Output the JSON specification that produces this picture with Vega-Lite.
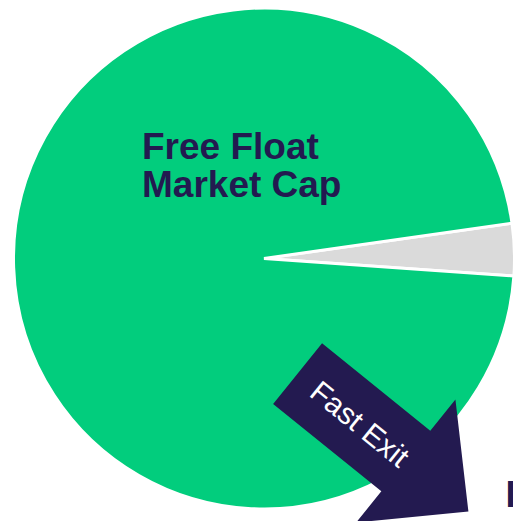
{
  "$schema": "https://vega.github.io/schema/vega-lite/v6.json",
  "width": 513,
  "height": 521,
  "autosize": {"type": "none"},
  "padding": 0,
  "background": "white",
  "config": {"view": {"stroke": null}},
  "layer": [
    {
      "data": {"values": [
        {"segment": "Other", "share": 3.36},
        {"segment": "Free Float Market Cap", "share": 96.64}
      ]},
      "mark": {"type": "arc", "outerRadius": 250.5, "stroke": "white", "strokeWidth": 3},
      "encoding": {
        "theta": {"field": "share", "type": "quantitative", "stack": true, "scale": {"range": [1.4294, 7.7126]}},
        "order": {"field": "share", "type": "quantitative", "sort": "ascending"},
        "color": {"field": "segment", "type": "nominal", "legend": null,
          "scale": {"domain": ["Free Float Market Cap", "Other"], "range": ["#02cd7d", "#dadada"]}},
        "x": {"value": 264},
        "y": {"value": 258.5}
      }
    },
    {
      "data": {"values": [{"label": "Free Float Market Cap"}]},
      "mark": {"type": "text", "align": "left", "baseline": "alphabetic", "font": "Liberation Sans", "fontWeight": "bold", "fontSize": 37, "lineHeight": 38, "color": "#231a50"},
      "encoding": {
        "text": {"value": ["Free Float", "Market Cap"]},
        "x": {"value": 142},
        "y": {"value": 159}
      }
    },
    {
      "data": {"values": [{"label": "Fast Exit"}]},
      "mark": {"type": "point", "filled": true, "opacity": 1, "color": "#231a50", "strokeWidth": 0,
        "shape": "M-1,-0.355 L0.267,-0.355 L0.267,-0.72 L1,0 L0.267,0.72 L0.267,0.355 L-1,0.355 Z",
        "size": 48180, "angle": 38.9},
      "encoding": {
        "x": {"value": 383},
        "y": {"value": 442.6}
      }
    },
    {
      "data": {"values": [{"label": "Fast Exit"}]},
      "mark": {"type": "text", "align": "center", "baseline": "middle", "font": "Liberation Sans", "fontSize": 30, "angle": 39, "color": "white"},
      "encoding": {
        "text": {"field": "label", "type": "nominal"},
        "x": {"value": 359},
        "y": {"value": 425}
      }
    },
    {
      "data": {"values": [{"label": "I"}]},
      "mark": {"type": "text", "align": "left", "baseline": "alphabetic", "font": "Liberation Sans", "fontWeight": "bold", "fontSize": 37, "color": "#231a50"},
      "encoding": {
        "text": {"field": "label", "type": "nominal"},
        "x": {"value": 505.5},
        "y": {"value": 507}
      }
    }
  ]
}
